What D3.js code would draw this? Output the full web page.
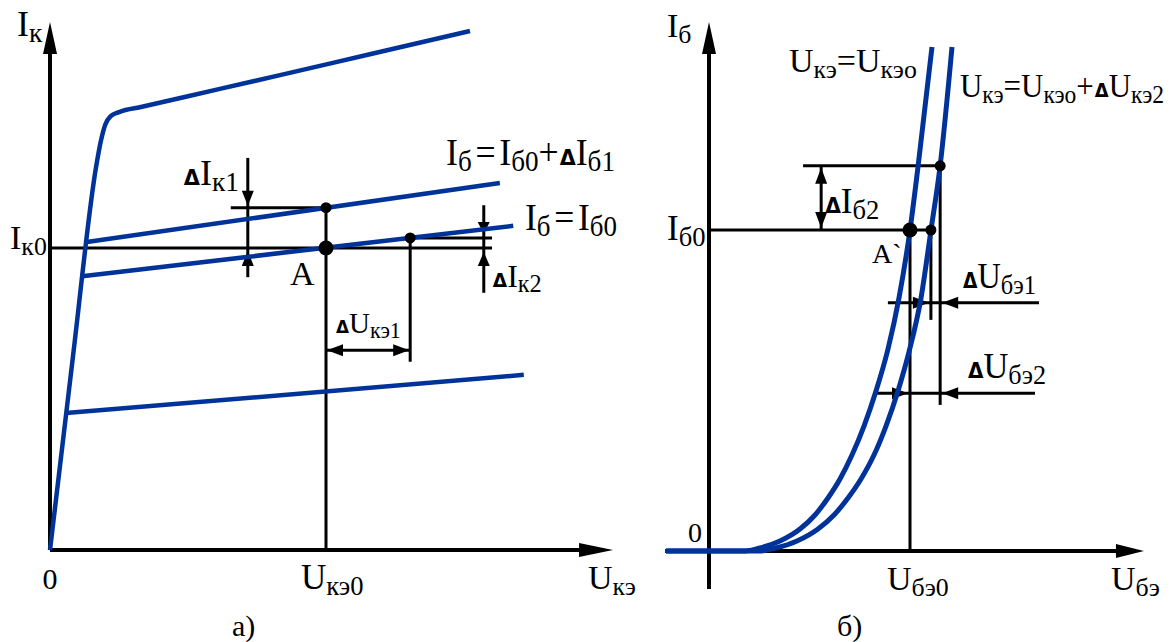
<!DOCTYPE html>
<html><head><meta charset="utf-8">
<script src="https://cdn.jsdelivr.net/npm/d3@7"></script>
<style>
body{margin:0;background:#fff}
svg{display:block}
text{font-family:"Liberation Serif","Times New Roman",serif;fill:#000}
</style>
</head><body>
<svg id="c" width="1174" height="642"></svg>
<script>
// ---------- DATA: panel а (output characteristics Iк(Uкэ)) ----------
const outTop   = [[0,0],[0.5,3.85],[1.0,7.6],[1.1,8.1],[1.2,8.45],[1.32,8.62],[1.5,8.7],
                  [2.0,8.805],[3.0,9.015],[5.0,9.435],[7.0,9.86],[9.13,10.31]];
const outIb1   = [[0.80,6.12],[9.78,7.29]];   // Iб = Iб0 + ΔIб1
const outIb0   = [[0.70,5.44],[10.07,6.44]];  // Iб = Iб0
const outLow   = [[0.35,2.72],[10.30,3.48]];
const outCurves = [outTop, outIb1, outIb0, outLow];
const Uke0 = 6, Ik0 = 6;             // operating point A
const pointA = [6, 6], pointUp = [6, 6.8], pointB = [7.83, 6.20];
const outAxisMax = [12.24, 10.49];

// ---------- DATA: panel б (input characteristics Iб(Uбэ)) ----------
const inCurve1 = [[-1.07,0],[0.896,0],[1.269,0.056],[1.766,0.187],[2.264,0.411],[2.637,0.673],
                  [2.960,0.991],[3.259,1.346],[3.557,1.794],[3.856,2.336],[4.154,2.991],
                  [4.453,3.776],[4.726,4.729],[5.0,6.0],[5.199,7.178],[5.547,9.421]];   // Uкэ=Uкэо
const inCurve2 = [[-1.07,0],[1.269,0],[1.667,0.056],[2.189,0.187],[2.711,0.411],[3.109,0.673],
                  [3.458,0.991],[3.781,1.346],[4.104,1.794],[4.403,2.336],[4.701,2.991],
                  [4.975,3.720],[5.274,4.729],[5.522,6.0],[5.746,7.178],[6.045,9.421]]; // Uкэ=Uкэо+ΔUкэ2
const Ube0 = 5, Ib0 = 6;
const pointA2 = [5, 6], pointC = [5.52, 6], pointD = [5.75, 7.2];
const inAxisX = [-1.09, 10.82], inAxisY = [-0.71, 9.89];

// ---------- scales ----------
const xA = d3.scaleLinear().domain([0, 6]).range([50, 326]);
const yA = d3.scaleLinear().domain([0, 6]).range([550, 248]);
const xB = d3.scaleLinear().domain([0, 5]).range([709, 910]);
const yB = d3.scaleLinear().domain([0, 6]).range([551, 230]);

const svg = d3.select('#c');
const BLUE = '#003399';
const gA = svg.append('g'), gB = svg.append('g');

function line(g, x1, y1, x2, y2, w) {
  g.append('line').attr('x1', x1).attr('y1', y1).attr('x2', x2).attr('y2', y2)
   .attr('stroke', '#000').attr('stroke-width', w || 3);
}
function arrow(g, tx, ty, dir, L, W) {
  L = L || 16; W = W || 6;
  let p;
  if (dir === 'up')    p = [[tx,ty],[tx-W,ty+L],[tx+W,ty+L]];
  if (dir === 'down')  p = [[tx,ty],[tx-W,ty-L],[tx+W,ty-L]];
  if (dir === 'left')  p = [[tx,ty],[tx+L,ty-W],[tx+L,ty+W]];
  if (dir === 'right') p = [[tx,ty],[tx-L,ty-W],[tx-L,ty+W]];
  g.append('path').attr('d', 'M' + p.map(q => q.join(',')).join('L') + 'Z').attr('fill', '#000');
}
function dot(g, x, y, r) { g.append('circle').attr('cx', x).attr('cy', y).attr('r', r).attr('fill', '#000'); }
// parts: [text, kind] kind: n normal, s subscript, d delta, e glyph with a small gap before it
function rich(g, x, y, parts, size, opts) {
  opts = opts || {};
  const t = g.append('text').attr('x', x).attr('y', y).attr('font-size', size)
    .attr('text-anchor', opts.anchor || 'start');
  if (opts.len) t.attr('textLength', opts.len).attr('lengthAdjust', 'spacingAndGlyphs');
  let cur = 0;
  parts.forEach(([s, k]) => {
    const ts = t.append('tspan').text(s);
    let target = 0;
    if (k === 's') { ts.attr('font-size', size * 0.76); target = size * 0.17; }
    if (k === 'd') { ts.attr('font-size', size * 0.58).attr('font-weight', 'bold')
                       .attr('font-family', 'DejaVu Sans').attr('dx', 1); }
    if (k === 'e') { ts.attr('dx', 4); }
    if (target !== cur) { ts.attr('dy', target - cur); cur = target; }
  });
  return t;
}

// ================= PANEL а =================
const lineA = d3.line().x(d => xA(d[0])).y(d => yA(d[1])).curve(d3.curveMonotoneX);
line(gA, xA(0), yA(0), xA(outAxisMax[0]) - 20, yA(0), 4);
line(gA, xA(0), yA(0), xA(0), yA(outAxisMax[1]) + 20, 4);
arrow(gA, xA(outAxisMax[0]), yA(0), 'right', 34, 7);
arrow(gA, xA(0), yA(outAxisMax[1]), 'up', 32, 7);

line(gA, xA(0), yA(Ik0), xA(9.61), yA(Ik0));
line(gA, xA(pointB[0]), yA(pointB[1]), xA(9.61), yA(pointB[1]));
line(gA, xA(3.93), yA(pointUp[1]), xA(pointUp[0]), yA(pointUp[1]));
line(gA, xA(Uke0), yA(pointUp[1]), xA(Uke0), yA(0));
line(gA, xA(pointB[0]), yA(pointB[1]), xA(pointB[0]), yA(3.74));
// ΔIк1
line(gA, xA(4.3), yA(7.79), xA(4.3), yA(5.42));
arrow(gA, xA(4.3), yA(pointUp[1]) - 2, 'down', 15, 6);
arrow(gA, xA(4.3), yA(Ik0) + 3, 'up', 15, 6);
// ΔIк2
line(gA, xA(9.43), yA(6.85), xA(9.43), yA(5.11));
arrow(gA, xA(9.43), yA(pointB[1]) - 4, 'down', 12, 6);
arrow(gA, xA(9.43), yA(Ik0) + 4, 'up', 14, 6);
// ΔUкэ1
line(gA, xA(Uke0), yA(3.97), xA(pointB[0]), yA(3.97));
arrow(gA, xA(Uke0) + 1, yA(3.97), 'left', 16, 6);
arrow(gA, xA(pointB[0]) - 1, yA(3.97), 'right', 16, 6);

gA.selectAll('path.curve').data(outCurves).enter().append('path').attr('class', 'curve')
  .attr('d', lineA).attr('fill', 'none').attr('stroke', BLUE).attr('stroke-width', 4.5)
  .attr('stroke-linejoin', 'round');

dot(gA, xA(pointA[0]), yA(pointA[1]), 7.5);
dot(gA, xA(pointUp[0]), yA(pointUp[1]), 5.5);
dot(gA, xA(pointB[0]), yA(pointB[1]), 5.5);

rich(gA, xA(0) - 33, yA(outAxisMax[1]) + 14, [['I','n'],['к','s']], 36);
rich(gA, xA(0) - 40, yA(Ik0) + 1, [['I','n'],['к0','s']], 34);
rich(gA, xA(4.3) - 65, 185, [['Δ','d'],['I','n'],['к1','s']], 36);
rich(gA, xA(Uke0) - 36, 285, [['A','n']], 34);
rich(gA, 446, 165, [['I','n'],['б','s'],['=','e'],['I','e'],['б0','s'],['+','n'],['Δ','d'],['I','n'],['б1','s']], 38, {len: 169});
rich(gA, 525, 230, [['I','n'],['б','s'],['=','e'],['I','e'],['б0','s']], 38, {len: 92});
rich(gA, xA(9.43) + 8, 287, [['Δ','d'],['I','n'],['к2','s']], 32);
rich(gA, xA(Uke0) + 9, 333, [['Δ','d'],['U','n'],['кэ1','s']], 29);
rich(gA, xA(0), 589, [['0','n']], 30, {anchor: 'middle'});
rich(gA, xA(Uke0) - 25, 589, [['U','n'],['кэ0','s']], 35);
rich(gA, 588, 589, [['U','n'],['кэ','s']], 34);
rich(gA, 232, 636, [['а)','n']], 30);

// ================= PANEL б =================
const lineB = d3.line().x(d => xB(d[0])).y(d => yB(d[1])).curve(d3.curveMonotoneX);
line(gB, xB(inAxisX[0]), yB(0), xB(inAxisX[1]) - 20, yB(0), 4);
line(gB, xB(0), yB(inAxisY[0]), xB(0), yB(inAxisY[1]) + 20, 4);
arrow(gB, xB(inAxisX[1]), yB(0), 'right', 28, 7);
arrow(gB, xB(0), yB(inAxisY[1]), 'up', 32, 7);

line(gB, xB(0), yB(Ib0), xB(pointC[0]), yB(Ib0));
line(gB, xB(2.34), yB(pointD[1]), xB(pointD[0]), yB(pointD[1]));
line(gB, xB(Ube0), yB(Ib0), xB(Ube0), yB(0));
line(gB, xB(pointC[0]), yB(Ib0), xB(pointC[0]), yB(4.32));
line(gB, xB(pointD[0]), yB(pointD[1]), xB(pointD[0]), yB(2.73));
// ΔIб2
line(gB, xB(2.79), yB(pointD[1]), xB(2.79), yB(Ib0));
arrow(gB, xB(2.79), yB(pointD[1]) + 2, 'up', 16, 6);
arrow(gB, xB(2.79), yB(Ib0) - 2, 'down', 16, 6);
// ΔUбэ1
line(gB, xB(4.45), yB(4.64), xB(8.21), yB(4.64));
arrow(gB, xB(5.47), yB(4.64), 'right', 16, 6);
arrow(gB, xB(5.80), yB(4.64), 'left', 16, 6);
// ΔUбэ2
line(gB, xB(4.15), yB(2.95), xB(8.11), yB(2.95));
arrow(gB, xB(4.95), yB(2.95), 'right', 16, 6);
arrow(gB, xB(5.80), yB(2.95), 'left', 16, 6);

gB.selectAll('path.curve').data([inCurve1, inCurve2]).enter().append('path').attr('class', 'curve')
  .attr('d', lineB).attr('fill', 'none').attr('stroke', BLUE).attr('stroke-width', 5)
  .attr('stroke-linejoin', 'round');

dot(gB, xB(pointA2[0]), yB(pointA2[1]), 7.5);
dot(gB, xB(pointC[0]), yB(pointC[1]), 5.5);
dot(gB, xB(pointD[0]), yB(pointD[1]), 5.5);

rich(gB, xB(0) - 42, 37, [['I','n'],['б','s']], 34);
rich(gB, 789, 72, [['U','n'],['кэ','s'],['=','n'],['U','n'],['кэо','s']], 34);
rich(gB, 960, 97, [['U','n'],['кэ','s'],['=','n'],['U','n'],['кэо','s'],['+','n'],['Δ','d'],['U','n'],['кэ2','s']], 33, {len: 204});
rich(gB, xB(2.79) + 3, 213, [['Δ','d'],['I','n'],['б2','s']], 35);
rich(gB, xB(0) - 42, 240, [['I','n'],['б0','s']], 35);
rich(gB, xB(Ube0) - 38, 263, [['A`','n']], 28);
rich(gB, 962, 288, [['Δ','d'],['U','n'],['бэ1','s']], 36, {len: 73});
rich(gB, 967, 378, [['Δ','d'],['U','n'],['бэ2','s']], 36, {len: 78});
rich(gB, xB(0) - 21, 542, [['0','n']], 28);
rich(gB, 887, 590, [['U','n'],['бэ0','s']], 34);
rich(gB, 1111, 590, [['U','n'],['бэ','s']], 34);
rich(gB, 837, 636, [['б)','n']], 30);
</script>
</body></html>
